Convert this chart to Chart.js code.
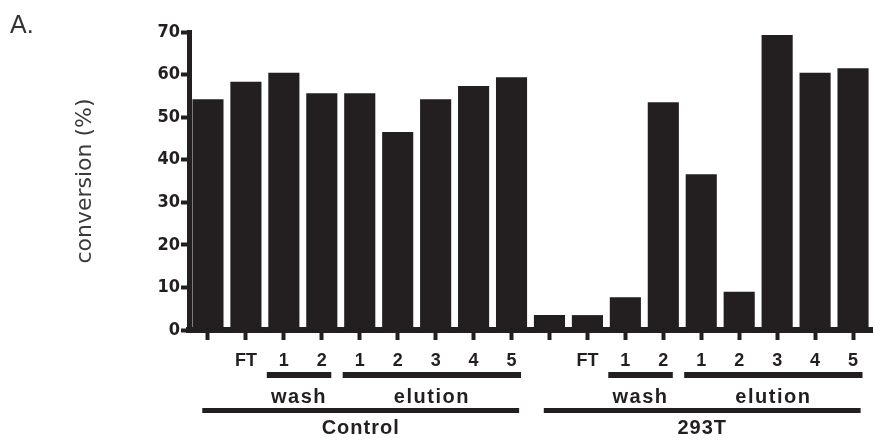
<!DOCTYPE html>
<html>
<head>
<meta charset="utf-8">
<script src="https://cdn.jsdelivr.net/npm/chart.js@4"></script>
<style>
  html, body { margin: 0; padding: 0; background: #fff; }
  #wrap { width: 873px; height: 442px; }
</style>
</head>
<body>
<div id="wrap"><canvas id="convChart" width="873" height="442"></canvas></div>
<script>
// tick labels under each bar (first bar of each group is the input, unlabelled)
const categories = ['', 'FT', '1', '2', '1', '2', '3', '4', '5',
                    '', 'FT', '1', '2', '1', '2', '3', '4', '5'];
const controlValues = [54.2, 58.3, 60.4, 55.6, 55.6, 46.5, 54.2, 57.3, 59.4];
const t293Values = [3.5, 3.5, 7.7, 53.5, 36.6, 9.0, 69.3, 60.4, 61.5];
const yTicks = [0, 10, 20, 30, 40, 50, 60, 70];

// brackets under the axis, by bar index
const subGroups = [
    { label: 'wash', from: 2, to: 3 },
    { label: 'elution', from: 4, to: 8 },
    { label: 'wash', from: 11, to: 12 },
    { label: 'elution', from: 13, to: 17 }
];
const groups = [
    { label: 'Control', from: 0, to: 8 },
    { label: '293T', from: 9, to: 17 }
];

const ink = '#231f20';

const bracketPlugin = {
    id: 'brackets',
    afterDraw(chart) {
        const ctx = chart.ctx;
        const x = chart.scales.x;
        const bottom = chart.chartArea.bottom;
        const w = x.getPixelForValue(1) - x.getPixelForValue(0);
        ctx.save();
        ctx.fillStyle = ink;
        ctx.textAlign = 'center';
        ctx.textBaseline = 'middle';
        ctx.font = 'bold 20px "Liberation Sans", Arial, sans-serif';
        ctx.letterSpacing = '1.5px';

        subGroups.forEach(g => {
            const x1 = x.getPixelForValue(g.from) - 0.45 * w;
            const x2 = x.getPixelForValue(g.to) + 0.25 * w;
            ctx.fillRect(x1, bottom + 42, x2 - x1, 6);
            ctx.fillText(g.label, (x1 + x2) / 2, bottom + 67);
        });

        ctx.letterSpacing = '1px';
        groups.forEach(g => {
            const x1 = x.getPixelForValue(g.from) - 0.15 * w;
            const x2 = x.getPixelForValue(g.to) + 0.2 * w;
            ctx.fillRect(x1, bottom + 78, x2 - x1, 5);
            ctx.fillText(g.label, (x1 + x2) / 2, bottom + 98);
        });

        // panel letter
        ctx.letterSpacing = '0px';
        ctx.textAlign = 'left';
        ctx.textBaseline = 'alphabetic';
        ctx.fillStyle = '#333';
        ctx.font = '25px "Liberation Sans", Arial, sans-serif';
        ctx.fillText('A.', 10, 33);
        ctx.restore();
    }
};

new Chart(document.getElementById('convChart'), {
    type: 'bar',
    data: {
        labels: categories,
        datasets: [{
            data: controlValues.concat(t293Values),
            backgroundColor: ink,
            borderWidth: 0,
            barPercentage: 0.82,
            categoryPercentage: 1
        }]
    },
    options: {
        responsive: false,
        animation: false,
        layout: { padding: { left: 72, right: 1, top: 32, bottom: 0 } },
        plugins: { legend: { display: false }, tooltip: { enabled: false } },
        scales: {
            x: {
                grid: { offset: false, drawOnChartArea: false, tickLength: 10, tickWidth: 4, color: ink },
                border: { color: ink, width: 6 },
                ticks: {
                    autoSkip: false, maxRotation: 0, padding: 10,
                    color: ink,
                    font: { family: '"Liberation Sans", Arial, sans-serif', size: 18, weight: 'bold' }
                },
                afterFit(scale) { scale.height = 112; }
            },
            y: {
                min: 0, max: 70,
                afterBuildTicks(scale) { scale.ticks = yTicks.map(v => ({ value: v })); },
                grid: { drawOnChartArea: false, tickLength: 8, tickWidth: 4, color: ink },
                border: { color: ink, width: 5 },
                ticks: {
                    padding: 1, color: ink,
                    font: { family: '"Liberation Sans Narrow", "DejaVu Sans Condensed", sans-serif', size: 18, weight: 'bold' }
                },
                title: {
                    display: true,
                    text: 'conversion (%)',
                    color: '#3a3a3a',
                    padding: 0,
                    font: { family: '"DejaVu Sans", sans-serif', size: 22 }
                },
                afterFit(scale) { scale.width = 117; }
            }
        }
    },
    plugins: [bracketPlugin]
});
</script>
</body>
</html>
